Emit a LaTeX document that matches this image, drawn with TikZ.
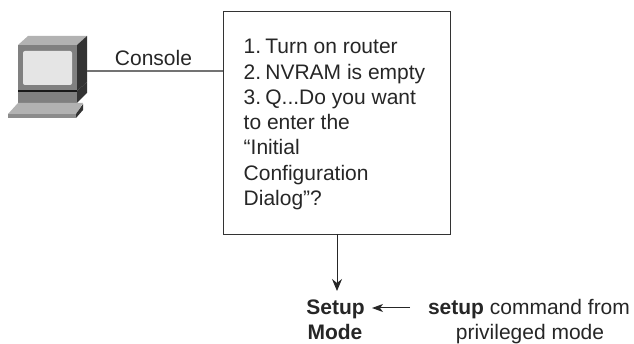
\documentclass[tikz,border=0pt]{standalone}
\usepackage{fontspec}
\setmainfont{Liberation Sans}
\usetikzlibrary{arrows.meta}
\definecolor{pcmid}{gray}{0.50}
\definecolor{pctop}{gray}{0.70}
\definecolor{pcdark}{gray}{0.20}
\definecolor{pcscreen}{gray}{0.90}
\definecolor{wire}{gray}{0.45}
\tikzset{
  lab/.style={font=\fontsize{21}{25}\selectfont, text=black!85, inner sep=0pt, anchor=base},
  listlab/.style={lab, anchor=base west},
  boxnode/.style={draw=black!80, line width=1pt, minimum width=226.5pt, minimum height=223.3pt, inner sep=0pt, anchor=north west},
  conn/.style={draw=black!85, line width=1pt, -{Stealth[length=12pt,width=10pt,inset=4pt]}},
  smallconn/.style={draw=black!85, line width=1pt, -{Stealth[length=11pt,width=8pt,inset=3pt]}},
  wireline/.style={draw=wire, line width=1.4pt}
}
\newcommand{\nsp}{\hspace{0.2em}}
\begin{document}
\begin{tikzpicture}[x=1pt,y=-1pt]
\useasboundingbox (0,0) rectangle (634,344);
% computer
\fill[pctop] (18,45) -- (28,36) -- (87,36) -- (77,45) -- cycle;
\fill[pcmid] (18,45) rectangle (77,91);
\fill[pcdark] (77,45) -- (87,36) -- (87,82) -- (77,91) -- cycle;
\fill[pcscreen,rounded corners=2pt] (23,51) rectangle (72,85);
\fill[black!90] (18,90.5) rectangle (77,92);
\fill[pcmid] (18,92) rectangle (77,103);
\fill[pcdark] (77,91) -- (87,82) -- (87,93) -- (77,103) -- cycle;
\fill[pctop] (8,114) -- (18,103) -- (83,103) -- (76,114) -- cycle;
\fill[pcmid!90!white] (8,114) rectangle (76,118);
\fill[pcdark] (76,114) -- (83,104) -- (83,110) -- (76,118) -- cycle;
\coordinate (pc) at (87,71);
% main box
\node[boxnode] (box) at (223,10.7) {};
\draw[wireline] (pc) -- (pc -| box.west);
\node[lab] (console) at (153.5,65.5) {Console};
\node[listlab] (l1) at (243.5,54) {1.\nsp Turn on router};
\node[listlab] (l2) at (243.5,79.3) {2.\nsp NVRAM is empty};
\node[listlab] (l3) at (243.5,105) {3.\nsp Q...Do you want};
\node[listlab] (l4) at (243.5,130) {to enter the};
\node[listlab] (l5) at (243.5,155) {“Initial};
\node[listlab] (l6) at (243.5,181) {Configuration};
\node[listlab] (l7) at (243.5,206) {Dialog”?};
% bottom
\node[lab] (setup) at (335.5,315) {\textbf{Setup}};
\node[lab] (mode) at (335,339) {\textbf{Mode}};
\node[lab] (cmd) at (529,315) {\textbf{setup} command from};
\node[lab] (priv) at (530,339) {privileged mode};
\coordinate (boxout) at (337,234);
\coordinate (arrowend) at (337,291);
\draw[conn] (boxout) -- (arrowend);
\coordinate (cmdout) at (410,308);
\coordinate (setupin) at (372,308);
\draw[smallconn] (cmdout) -- (setupin);
\end{tikzpicture}
\end{document}
